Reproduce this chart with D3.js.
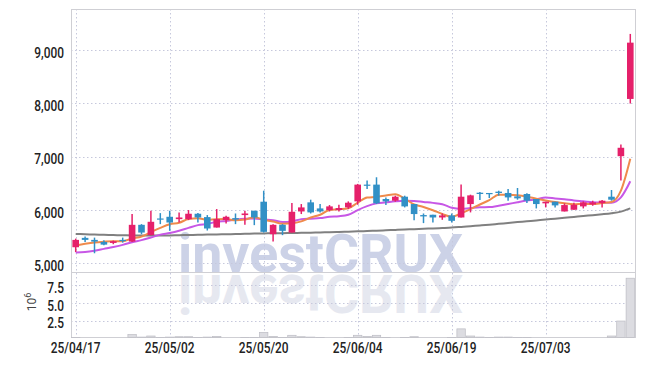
<!DOCTYPE html>
<html><head><meta charset="utf-8">
<script src="https://cdn.jsdelivr.net/npm/d3@7"></script>
<style>body{margin:0;background:#fff;} svg{display:block;}</style>
</head><body><svg id="c" width="645" height="366" xmlns:xlink="http://www.w3.org/1999/xlink"></svg>
<script>
const dates = ["25/04/17","25/04/18","25/04/21","25/04/22","25/04/23","25/04/24","25/04/25","25/04/28","25/04/29","25/04/30",
"25/05/02","25/05/07","25/05/08","25/05/09","25/05/12","25/05/13","25/05/14","25/05/15","25/05/16","25/05/19",
"25/05/20","25/05/21","25/05/22","25/05/23","25/05/26","25/05/27","25/05/28","25/05/29","25/05/30","25/06/02",
"25/06/04","25/06/05","25/06/09","25/06/10","25/06/11","25/06/12","25/06/13","25/06/16","25/06/17","25/06/18",
"25/06/19","25/06/20","25/06/23","25/06/24","25/06/25","25/06/26","25/06/27","25/06/30","25/07/01","25/07/02",
"25/07/03","25/07/04","25/07/07","25/07/08","25/07/09","25/07/10","25/07/11","25/07/14","25/07/15","25/07/16"];
const open  = [5296,5472,5434,5396,5377,5434,5402,5717,5523,5836, 5868,5824,5824,5925,5862,5666,5805,5843,5900,5981,
               6151,5541,5717,5572,5968,6139,6025,5994,5994,6044, 6157,6472,6472,6202,6170,6245,6107,5900,5906,5855,
               5893,5855,6107,6320,6315,6340,6315,6251,6296,6202, 6120,6151,5968,6000,6063,6100,6126,6245,7006,8081];
const high  = [5458,5496,5477,5428,5421,5477,5919,5730,5981,5937, 5981,5950,5994,5937,5900,6013,5887,5930,5981,5981,
               6358,5730,5730,6126,6107,6189,6107,6088,6094,6157, 6485,6547,6610,6232,6264,6264,6107,5930,5906,5930,
               5930,6472,6283,6334,6315,6358,6390,6409,6308,6202, 6151,6151,6120,6132,6157,6170,6183,6371,7226,9302];
const low   = [5207,5396,5183,5334,5353,5383,5395,5541,5523,5730, 5604,5760,5805,5760,5610,5666,5742,5730,5717,5711,
               5572,5402,5523,5572,5919,5930,5950,5968,5968,6013, 6094,6390,6107,6088,6151,6044,5805,5749,5760,5811,
               5760,5855,5950,6183,6220,6264,6170,6189,6126,6025, 6044,6044,5968,6000,6025,6075,6044,6170,6547,7995];
const close = [5434,5434,5402,5345,5409,5421,5717,5572,5774,5817, 5760,5855,5925,5855,5648,5824,5868,5817,5930,5855,
               5585,5717,5604,5962,6044,5950,5968,6063,6032,6132, 6472,6453,6120,6157,6245,6063,5919,5875,5855,5893,
               5792,6245,6270,6296,6296,6315,6232,6214,6170,6107, 6151,6082,6088,6094,6139,6139,6170,6189,7164,9138];
const volume = [0.15,0.1,0.1,0.08,0.08,0.1,0.55,0.2,0.35,0.15, 0.2,0.25,0.25,0.15,0.2,0.3,0.1,0.1,0.15,0.15,
                0.85,0.3,0.15,0.45,0.25,0.2,0.15,0.1,0.1,0.15, 0.45,0.3,0.45,0.15,0.1,0.15,0.25,0.1,0.1,0.08,
                0.15,1.35,0.35,0.2,0.15,0.2,0.2,0.15,0.15,0.1, 0.1,0.08,0.1,0.1,0.08,0.08,0.1,0.35,2.45,8.45];
const ma5  = [5330,5360,5385,5400,5410,5410,5460,5495,5580,5660, 5728,5756,5826,5842,5809,5821,5824,5802,5817,5859,
              5811,5781,5738,5745,5782,5855,5906,5997,6011,6029, 6133,6230,6242,6267,6289,6208,6101,6052,5991,5921,
              5867,5932,6011,6099,6180,6284,6282,6271,6245,6208, 6175,6145,6120,6104,6111,6108,6126,6146,6360,6960];
const ma10 = [5195,5205,5230,5265,5300,5340,5390,5430,5480,5533, 5565,5607,5660,5711,5734,5775,5790,5814,5830,5834,
              5816,5802,5770,5781,5821,5833,5843,5868,5878,5906, 5994,6068,6120,6139,6159,6171,6166,6147,6129,6105,
              6037,6016,6031,6045,6050,6076,6107,6141,6172,6194, 6230,6213,6195,6175,6159,6142,6135,6133,6232,6535];
const ma60 = [5545,5540,5535,5530,5525,5520,5518,5516,5515,5516, 5518,5522,5526,5530,5533,5536,5540,5544,5548,5552,
              5556,5558,5560,5563,5566,5570,5574,5578,5582,5588, 5594,5600,5607,5614,5622,5629,5636,5643,5650,5657,
              5665,5678,5692,5706,5720,5736,5752,5768,5784,5800, 5815,5832,5848,5865,5882,5898,5915,5935,5965,6025];
const xTickLabels = ["25/04/17","25/05/02","25/05/20","25/06/04","25/06/19","25/07/03"];
const yTicks = [5000,6000,7000,8000,9000];
const volTicks = [2.5,5,7.5];

const svg = d3.select("#c");
const L = 71, R = 635, T = 9, MB = 272, VB = 338.5, VAX = 337.5, RF = 636;
const x = d3.scaleBand().domain(dates).range([L, R]);
const y = d3.scaleLinear().domain([4831, 9770]).range([MB, T]);
const vy = d3.scaleLinear().domain([0, 9.32]).range([VB, MB]);
const bw = x.bandwidth();
const cx = d => x(d) + bw / 2;

const FONT = "Roboto, 'DejaVu Sans', sans-serif";
const SX = 0.85;

// watermark and its reflection
const defs = svg.append("defs");
defs.append("text").attr("id", "wmtext").attr("x", 178).attr("y", 272).attr("font-family", "Roboto").attr("font-weight", 700)
  .attr("font-size", 54.5).attr("textLength", 285).attr("lengthAdjust", "spacingAndGlyphs")
  .text("investCRUX");
const wm = svg.append("g");
wm.append("use").attr("href", "#wmtext").attr("fill", "#ccd2e7");
wm.append("use").attr("href", "#wmtext").attr("fill", "#e6e8f0")
  .attr("transform", "translate(0,547) scale(1,-1)");

// grid
const grid = svg.append("g").attr("stroke", "#c6c8dc").attr("stroke-width", 1).attr("stroke-dasharray", "1.5,2.5");
yTicks.forEach(t => grid.append("line").attr("x1", L).attr("x2", RF).attr("y1", Math.round(y(t)) + 0.5).attr("y2", Math.round(y(t)) + 0.5));
volTicks.forEach(t => grid.append("line").attr("x1", L).attr("x2", RF).attr("y1", Math.round(vy(t)) + 0.5).attr("y2", Math.round(vy(t)) + 0.5));
xTickLabels.forEach(t => grid.append("line").attr("x1", Math.round(cx(t)) + 0.5).attr("x2", Math.round(cx(t)) + 0.5).attr("y1", T).attr("y2", VAX));

// frame
const fr = svg.append("g").attr("stroke", "#cfcfd4").attr("stroke-width", 1).attr("fill", "none");
fr.append("line").attr("x1", L + 0.5).attr("x2", L + 0.5).attr("y1", T).attr("y2", VAX);
fr.append("line").attr("x1", RF - 0.5).attr("x2", RF - 0.5).attr("y1", T).attr("y2", VAX);
fr.append("line").attr("x1", L).attr("x2", RF).attr("y1", T + 0.5).attr("y2", T + 0.5);
fr.append("line").attr("x1", L).attr("x2", RF).attr("y1", MB + 0.5).attr("y2", MB + 0.5);
fr.append("line").attr("x1", L).attr("x2", RF).attr("y1", VAX).attr("y2", VAX);

// volume bars
svg.append("g").selectAll("rect").data(dates).join("rect")
  .attr("x", d => x(d) + 0.5).attr("width", bw - 1)
  .attr("y", (d, i) => vy(volume[i])).attr("height", (d, i) => Math.max(0, VAX - vy(volume[i])))
  .attr("fill", "#dcdce1").attr("stroke", "#bcbcc4").attr("stroke-width", 0.7);

// moving averages
const line = arr => d3.line().x((d, i) => cx(dates[i])).y(d => y(d)).curve(d3.curveMonotoneX)(arr);
svg.append("path").attr("d", line(ma60)).attr("fill", "none").attr("stroke", "#808080").attr("stroke-width", 2);
svg.append("path").attr("d", line(ma10)).attr("fill", "none").attr("stroke", "#c757e6").attr("stroke-width", 2);
svg.append("path").attr("d", line(ma5)).attr("fill", "none").attr("stroke", "#ef8a4c").attr("stroke-width", 2);

// candles
const up = "#e5206a", down = "#3190c6";
const cg = svg.append("g");
dates.forEach((d, i) => {
  const col = close[i] >= open[i] ? up : down;
  const g = cg.append("g");
  g.append("line").attr("x1", cx(d)).attr("x2", cx(d)).attr("y1", y(high[i])).attr("y2", y(low[i]))
    .attr("stroke", col).attr("stroke-width", 1.5);
  const top = y(Math.max(open[i], close[i])), bot = y(Math.min(open[i], close[i]));
  g.append("rect").attr("x", cx(d) - 3.3).attr("width", 6.6).attr("y", top).attr("height", Math.max(1.2, bot - top))
    .attr("fill", col);
});

// axes
function styleAxis(g) {
  g.select(".domain").remove();
  g.selectAll("text").attr("font-family", FONT).attr("font-size", 14).attr("font-weight", 500).attr("fill", "#222");
}
const ya = svg.append("g").attr("transform", `translate(${L},0)`)
  .call(d3.axisLeft(y).tickValues(yTicks).tickFormat(d3.format(",")).tickSize(0).tickPadding(0));
styleAxis(ya);
ya.selectAll("text").attr("x", -7 / SX).attr("dy", "0.52em").attr("transform", `scale(${SX},1)`);

const va = svg.append("g").attr("transform", `translate(${L},0)`)
  .call(d3.axisLeft(vy).tickValues(volTicks).tickFormat(d3.format(".1f")).tickSize(0).tickPadding(0));
styleAxis(va);
va.selectAll("text").attr("x", -7 / SX).attr("dy", "0.52em").attr("transform", `scale(${SX},1)`);

const xa = svg.append("g").attr("transform", `translate(0,${VAX})`)
  .call(d3.axisBottom(x).tickValues(xTickLabels).tickSize(0).tickPadding(5.5));
styleAxis(xa);
xa.selectAll("text").attr("transform", `scale(${SX},1)`);
xa.selectAll(".tick").each(function(d) {
  d3.select(this).attr("transform", `translate(${cx(d)},0)`);
});

// volume unit label
const ul = svg.append("text").attr("transform", "translate(36,302) rotate(-90)")
  .attr("text-anchor", "middle").attr("font-family", FONT).attr("font-size", 12).attr("fill", "#444");
ul.append("tspan").text("10");
ul.append("tspan").attr("font-size", 9).attr("dy", -5).text("6");
</script></body></html>
